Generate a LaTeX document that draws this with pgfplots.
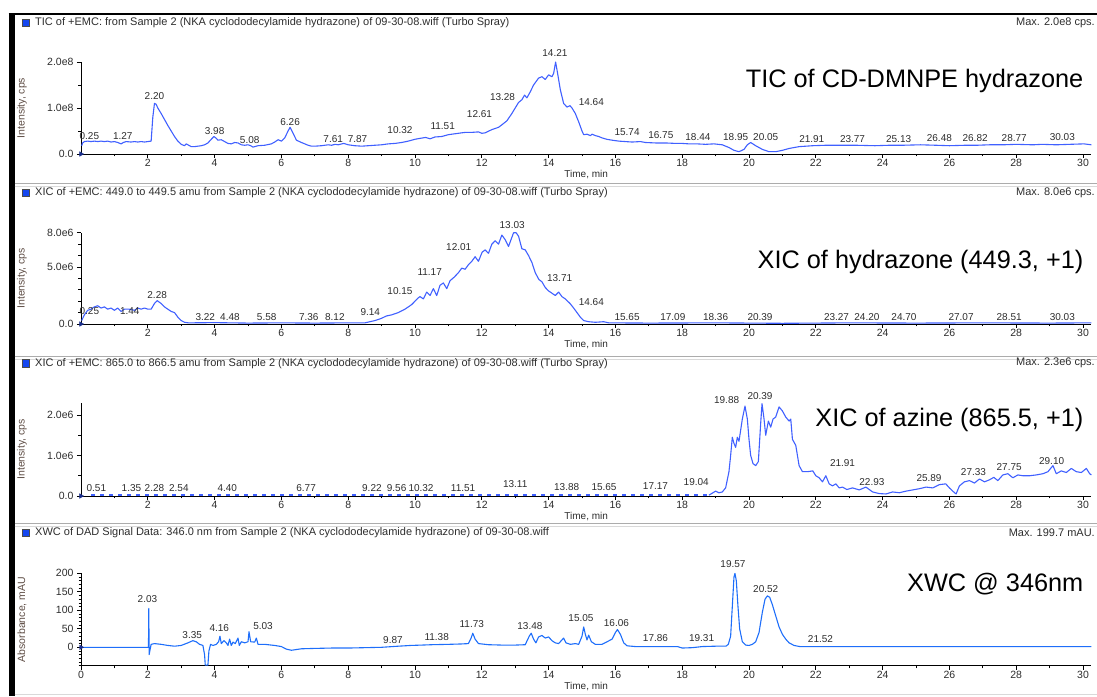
\documentclass[border=0pt]{standalone}
\usepackage{fontspec}
\setmainfont{Liberation Sans}
\usepackage{pgfplots}
\pgfplotsset{compat=1.18}

\definecolor{trace}{RGB}{64,96,255}
\definecolor{tracedad}{RGB}{30,110,250}
\definecolor{ink}{RGB}{45,45,45}
\definecolor{labink}{RGB}{95,78,70}
\definecolor{navy}{RGB}{25,45,140}
\definecolor{hdrblue}{RGB}{20,70,240}

\newcommand{\smallfont}{\fontsize{10.5}{12}\selectfont}
\newcommand{\peakfont}{\fontsize{10}{12}\selectfont}
\newcommand{\bigfont}{\fontsize{25.3}{30}\selectfont}

\pgfplotsset{
  chrom/.style={
    scale only axis, width=1010.35pt, anchor=south west,
    xmin=0, xmax=30.25,
    axis x line*=bottom, axis y line*=left,
    axis line style={-, line width=0.9pt, black},
    tick align=outside,
    major tick length=4pt, minor tick length=2.5pt,
    tick style={black, line width=0.7pt},
    xtick={2,4,...,30}, minor xtick={1,3,...,29},
    /pgf/number format/assume math mode=true,
    ticklabel style={font=\smallfont, text=ink},
    xticklabel style={inner sep=1pt},
    xlabel={Time, min},
    xlabel style={font=\fontsize{10}{12}\selectfont, text=ink, at={(axis description cs:0.5,0)}, anchor=north, yshift=-16pt, inner sep=0pt},
    ylabel style={font=\smallfont, text=labink, at={(axis description cs:-0.0584,0.5)}, anchor=center},
    clip=false,
  },
  trc/.style={trace, line width=1.1pt, line join=round},
  peaks/.style={draw=none, nodes near coords, point meta=explicit symbolic,
    every node near coord/.style={anchor=center, font=\peakfont, text=ink, inner sep=0pt}},
  origin/.style={only marks, mark=triangle*, mark size=2.6pt,
    mark options={rotate=-90, fill=navy, draw=navy}},
}

\begin{document}
\begin{tikzpicture}[x=1pt,y=1pt]
\path[use as bounding box] (0,0) rectangle (1097,696);

% window frame
\fill[black] (8.5,0) rectangle (14.5,683);
\draw[black, line width=1.4pt] (8.5,682) -- (1097,682);
\foreach \yy in {513,340,173} {
  \draw[gray!65, line width=0.8pt] (14.5,\yy) -- (1097,\yy);
  \draw[gray!30, line width=0.8pt] (14.5,\yy-3) -- (1097,\yy-3);
}
\draw[gray!30, line width=0.8pt] (14.5,1.5) -- (1097,1.5);

% panel headers
\foreach \yy/\txt/\mx in {
  673.3/{TIC of +EMC: from Sample 2 (NKA cyclododecylamide hydrazone) of 09-30-08.wiff (Turbo Spray)}/{Max. 2.0e8 cps.},
  503.3/{XIC of +EMC: 449.0 to 449.5 amu from Sample 2 (NKA cyclododecylamide hydrazone) of 09-30-08.wiff (Turbo Spray)}/{Max. 8.0e6 cps.},
  332.7/{XIC of +EMC: 865.0 to 866.5 amu from Sample 2 (NKA cyclododecylamide hydrazone) of 09-30-08.wiff (Turbo Spray)}/{Max. 2.3e6 cps.},
  163.3/{XWC of DAD Signal Data: 346.0 nm from Sample 2 (NKA cyclododecylamide hydrazone) of 09-30-08.wiff}/{Max. 199.7 mAU.}} {
  \filldraw[fill=hdrblue, draw=black!70, line width=0.4pt] (22,\yy-3.8) rectangle (29.6,\yy+3.8);
  \node[anchor=west, font=\fontsize{11}{13}\selectfont, text=ink, inner sep=0pt] at (35,\yy) {\txt};
  \node[anchor=east, font=\fontsize{11}{13}\selectfont, text=ink, inner sep=0pt] at (1095,\yy) {\mx};
}

% panel titles
\node[anchor=base east, font=\bigfont, inner sep=0pt] at (1083.5,608) {TIC of CD-DMNPE hydrazone};
\node[anchor=base east, font=\bigfont, inner sep=0pt] at (1083.5,427.7) {XIC of hydrazone (449.3, +1)};
\node[anchor=base east, font=\bigfont, inner sep=0pt] at (1083.5,269.3) {XIC of azine (865.5, +1)};
\node[anchor=base east, font=\bigfont, inner sep=0pt] at (1083.5,104.3) {XWC @ 346nm};

% ---------------- TIC (values in 1e6 cps) ----------------
\begin{axis}[chrom, at={(81pt,542pt)}, height=92pt,
  ymin=0, ymax=200, ytick={0,100,200}, yticklabels={0.0,1.0e8,2.0e8},
  minor ytick={50,150}, ylabel={Intensity, cps}]
\addplot[trc] table {
0.02 18
0.05 24
0.1 27
0.2 28
0.3 27
0.4 28
0.5 27
0.6 28
0.7 27
0.8 28
0.9 26
1.0 27
1.1 25
1.2 22
1.27 25
1.35 27
1.5 26
1.6 27
1.7 26
1.8 27
1.9 26
2.0 27
2.1 28
2.15 80
2.2 110
2.25 108
2.3 100
2.4 88
2.5 75
2.6 62
2.7 50
2.8 38
2.9 28
3.0 21
3.1 18
3.15 22
3.2 20
3.3 16
3.4 16
3.5 17
3.6 18
3.7 20
3.8 24
3.9 32
3.98 38
4.05 34
4.1 30
4.2 31
4.3 27
4.4 23
4.5 22
4.6 25
4.7 24
4.8 20
4.9 19
5.0 20
5.08 18
5.15 15
5.3 18
5.5 19
5.7 22
5.8 26
5.9 31
6.0 28
6.1 35
6.2 50
6.26 58
6.35 45
6.45 30
6.6 25
6.7 22
6.8 19
6.9 17
7.0 17
7.2 18
7.4 20
7.5 19
7.61 21
7.7 20
7.87 23
8.0 20
8.2 18
8.4 17
8.6 18
8.8 19
9.0 20
9.2 22
9.4 23
9.6 25
9.8 28
10.0 32
10.15 34
10.32 36
10.45 33
10.6 37
10.8 38
11.0 42
11.2 44
11.4 46
11.51 47
11.7 47
11.9 48
12.0 45
12.1 46
12.3 53
12.5 58
12.61 64
12.75 72
12.9 88
13.0 100
13.1 112
13.2 118
13.28 128
13.35 122
13.45 135
13.55 150
13.7 165
13.8 168
13.9 162
14.0 172
14.1 168
14.15 175
14.21 200
14.27 175
14.35 140
14.45 110
14.55 102
14.64 105
14.7 100
14.8 88
14.9 70
15.0 50
15.05 42
15.15 43
15.25 40
15.3 43
15.4 40
15.5 38
15.6 35
15.74 32
15.9 30
16.1 28
16.3 27
16.5 26
16.75 27
16.9 25
17.2 24
17.5 24
17.8 23
18.0 23
18.2 22
18.44 22
18.7 21
18.95 22
19.2 20
19.4 14
19.55 8
19.7 5
19.85 10
19.95 20
20.05 25
20.2 18
20.4 10
20.6 5
20.8 5
21.0 8
21.2 12
21.5 16
21.91 18
22.3 19
22.7 19
23.2 19
23.77 18
24.2 19
24.6 19
25.13 20
25.6 19
26.0 18
26.48 19
26.82 19
27.2 20
27.6 20
28.0 21
28.5 20
28.77 21
29.2 20
29.6 21
30.03 22
30.25 20
};
\addplot[origin] coordinates {(0,0)};
\addplot[peaks] table[meta=lab] {
x y lab
0.25 39 0.25
1.25 39 1.27
2.2 125 2.20
4.0 50 3.98
5.05 30 5.08
6.26 70 6.26
7.55 32 7.61
8.28 32 7.87
9.55 51 10.32
10.83 61.5 11.51
11.93 87 12.61
12.62 124.6 13.28
14.19 219 14.21
15.28 113.7 14.64
16.35 47 15.74
17.36 41 16.75
18.47 36 18.44
19.6 36 18.95
20.5 36 20.05
21.88 32 21.91
23.1 32 23.77
24.48 32 25.13
25.7 34 26.48
26.77 34 26.82
27.94 34 28.77
29.38 36 30.03
};
\end{axis}

% ---------------- XIC 449 (values in 1e6 cps) ----------------
\begin{axis}[chrom, at={(81pt,372pt)}, height=91.2pt,
  ymin=0, ymax=8, ytick={0,5,8}, yticklabels={0.0,5.0e6,8.0e6},
  minor ytick={1,2,3,4,6,7}, ylabel={Intensity, cps}]
\addplot[trc] table {
0.02 0.3
0.1 0.8
0.2 1.2
0.3 1.3
0.4 1.5
0.5 1.6
0.6 1.4
0.7 1.5
0.8 1.3
0.9 1.4
1.0 1.2
1.1 1.4
1.2 1.1
1.3 1.3
1.44 1.3
1.6 1.2
1.7 1.4
1.8 1.3
1.9 1.4
2.0 1.3
2.1 1.3
2.2 1.8
2.28 2.05
2.4 1.8
2.5 1.5
2.6 1.3
2.7 1.1
2.8 1.0
2.9 0.6
3.0 0.3
3.1 0.15
3.22 0.1
4.0 0.12
5.0 0.08
6.0 0.1
7.0 0.08
8.0 0.1
8.5 0.1
8.8 0.3
9.0 0.5
9.14 0.7
9.3 0.8
9.5 1.0
9.7 1.3
9.9 1.7
10.0 2.0
10.1 2.3
10.15 2.4
10.25 2.2
10.35 2.8
10.45 2.5
10.55 3.1
10.65 2.5
10.75 3.4
10.85 3.6
10.95 3.1
11.05 3.8
11.17 4.1
11.3 4.5
11.4 4.9
11.5 4.8
11.6 5.2
11.7 5.5
11.8 5.9
11.9 5.5
12.01 6.3
12.1 6.5
12.2 6.2
12.3 7.0
12.4 7.3
12.5 7.0
12.6 7.8
12.7 7.4
12.8 6.8
12.9 7.6
12.95 8.0
13.03 8.0
13.1 7.7
13.2 6.6
13.3 6.5
13.4 6.0
13.5 5.4
13.6 4.5
13.71 3.9
13.8 3.7
13.9 3.2
14.0 2.9
14.1 2.7
14.2 2.5
14.3 2.8
14.4 2.4
14.5 2.2
14.64 1.8
14.75 1.4
14.85 1.0
14.95 0.6
15.05 0.3
15.2 0.2
15.4 0.15
15.65 0.2
15.8 0.1
17.0 0.08
19.0 0.1
21.0 0.06
23.0 0.1
25.0 0.08
27.0 0.1
29.0 0.08
30.25 0.1
};
\addplot[origin] coordinates {(0,0)};
\addplot[peaks] table[meta=lab] {
x y lab
0.25 1.14 0.25
1.46 1.14 1.44
2.28 2.54 2.28
3.72 0.59 3.22
4.46 0.59 4.48
5.56 0.59 5.58
6.82 0.59 7.36
7.6 0.59 8.12
8.66 1.08 9.14
9.55 2.89 10.15
10.44 4.59 11.17
11.31 6.78 12.01
12.91 8.68 13.03
14.33 4.0 13.71
15.28 1.96 14.64
16.35 0.64 15.65
17.72 0.6 17.09
19.0 0.6 18.36
20.33 0.6 20.39
22.62 0.6 23.27
23.53 0.6 24.20
24.64 0.6 24.70
26.35 0.6 27.07
27.79 0.6 28.51
29.38 0.6 30.03
};
\end{axis}

% ---------------- XIC 865 (values in 1e6 cps) ----------------
\begin{axis}[chrom, at={(81pt,200pt)}, height=93.15pt,
  ymin=0, ymax=2.3, ytick={0,1,2}, yticklabels={0.0,1.0e6,2.0e6},
  minor ytick={0.5,1.5}, ylabel={Intensity, cps}]
\addplot[trc, line width=1.6pt, dash pattern=on 4pt off 5pt] table {
0.3 0.02
18.8 0.02
};
\addplot[trc] table {
18.8 0.02
19.0 0.12
19.1 0.08
19.2 0.1
19.3 0.2
19.4 0.6
19.45 1.0
19.5 1.45
19.55 1.3
19.6 1.2
19.65 1.45
19.7 1.35
19.8 1.9
19.88 2.22
19.95 1.9
20.0 1.4
20.05 1.0
20.12 0.8
20.2 0.75
20.28 0.85
20.35 1.8
20.39 2.28
20.45 1.9
20.5 1.5
20.58 1.85
20.65 1.7
20.72 1.9
20.8 1.95
20.9 2.2
21.0 2.1
21.1 1.95
21.2 1.85
21.25 1.9
21.3 1.4
21.4 1.25
21.5 0.75
21.6 0.6
21.75 0.6
21.91 0.62
22.0 0.5
22.1 0.45
22.2 0.35
22.3 0.5
22.4 0.3
22.5 0.25
22.6 0.3
22.7 0.2
22.8 0.22
22.93 0.16
23.1 0.2
23.3 0.15
23.5 0.22
23.7 0.1
23.9 0.06
24.1 0.05
24.3 0.1
24.5 0.08
24.7 0.12
24.9 0.15
25.1 0.18
25.3 0.22
25.5 0.2
25.7 0.28
25.89 0.3
26.0 0.2
26.1 0.12
26.2 0.05
26.3 0.25
26.45 0.35
26.6 0.38
26.75 0.32
26.9 0.42
27.05 0.35
27.2 0.4
27.33 0.46
27.45 0.38
27.6 0.52
27.75 0.55
27.9 0.45
28.05 0.52
28.2 0.5
28.4 0.5
28.6 0.52
28.8 0.55
28.95 0.6
29.1 0.75
29.2 0.55
29.35 0.62
29.5 0.58
29.65 0.68
29.8 0.6
29.95 0.58
30.1 0.68
30.2 0.55
30.25 0.52
};
\addplot[origin] coordinates {(0,0)};
\addplot[peaks] table[meta=lab] {
x y lab
0.46 0.2 0.51
1.51 0.2 1.35
2.2 0.2 2.28
2.93 0.2 2.54
4.38 0.2 4.40
6.74 0.2 6.77
8.71 0.2 9.22
9.45 0.2 9.56
10.18 0.2 10.32
11.44 0.2 11.51
13.0 0.29 13.11
14.54 0.21 13.88
15.66 0.21 15.65
17.2 0.25 17.17
18.42 0.34 19.04
19.33 2.37 19.88
20.33 2.48 20.39
22.8 0.81 21.91
23.68 0.34 22.93
25.39 0.44 25.89
26.72 0.6 27.33
27.79 0.72 27.75
29.06 0.86 29.10
};
\end{axis}

% ---------------- DAD 346 nm (mAU) ----------------
\begin{axis}[chrom, at={(81pt,30.2pt)}, height=92.5pt,
  ymin=-50, ymax=200, ytick={0,50,...,200},
  minor ytick={-50,-40,...,190}, xtick={0,2,...,30},
  ylabel={Absorbance, mAU}]
\addplot[trc, tracedad] table {
0 0
1.98 0
2.02 0
2.03 105
2.04 -20
2.06 -10
2.1 8
2.2 10
2.4 8
2.6 5
2.8 3
3.0 5
3.2 12
3.35 18
3.45 15
3.55 8
3.65 5
3.7 -20
3.72 -48
3.8 -48
3.83 -10
3.88 8
3.95 5
4.05 8
4.12 15
4.16 30
4.2 10
4.28 18
4.35 12
4.4 5
4.45 22
4.5 5
4.55 14
4.62 10
4.7 25
4.74 5
4.8 15
4.9 12
5.0 15
5.03 42
5.08 15
5.2 14
5.25 25
5.3 8
5.5 8
5.8 5
6.0 2
6.15 -5
6.3 -8
6.6 -4
7.0 -3
7.5 -2
8.0 -2
8.5 -1
9.0 0
9.5 3
9.87 5
10.2 6
10.5 7
11.0 8
11.38 9
11.6 10
11.68 25
11.73 38
11.8 22
11.9 10
12.2 7
12.6 6
13.0 6
13.3 7
13.42 30
13.48 38
13.55 22
13.62 12
13.7 28
13.8 32
13.9 25
14.0 28
14.1 18
14.2 12
14.3 10
14.4 20
14.45 25
14.52 12
14.65 8
14.8 10
14.9 8
15.0 30
15.05 55
15.1 35
15.15 20
15.2 33
15.28 15
15.4 8
15.6 8
15.75 15
15.9 22
16.0 40
16.06 48
16.15 35
16.25 12
16.35 4
16.6 2
17.0 2
17.5 2
17.86 2
18.0 -2
18.3 -1
18.6 2
19.0 3
19.31 3
19.38 8
19.45 30
19.5 110
19.55 190
19.58 199.7
19.62 180
19.67 110
19.72 50
19.8 15
19.9 6
20.0 5
20.1 8
20.2 15
20.3 40
20.4 95
20.48 130
20.55 139
20.62 135
20.7 115
20.8 85
20.9 55
21.0 35
21.1 22
21.2 12
21.35 5
21.52 2
24.0 2
27.0 2
30.25 2
};
\addplot[origin] coordinates {(0,0)};
\addplot[peaks] table[meta=lab] {
x y lab
1.99 130.5 2.03
3.33 33 3.35
4.14 51 4.16
5.45 57.5 5.03
9.34 20 9.87
10.65 29 11.38
11.7 62 11.73
13.44 57 13.48
14.97 78 15.05
16.03 66 16.06
17.2 24 17.86
18.58 24 19.31
19.52 224 19.57
20.5 157 20.52
22.14 21.6 21.52
};
\end{axis}
\end{tikzpicture}
\end{document}
